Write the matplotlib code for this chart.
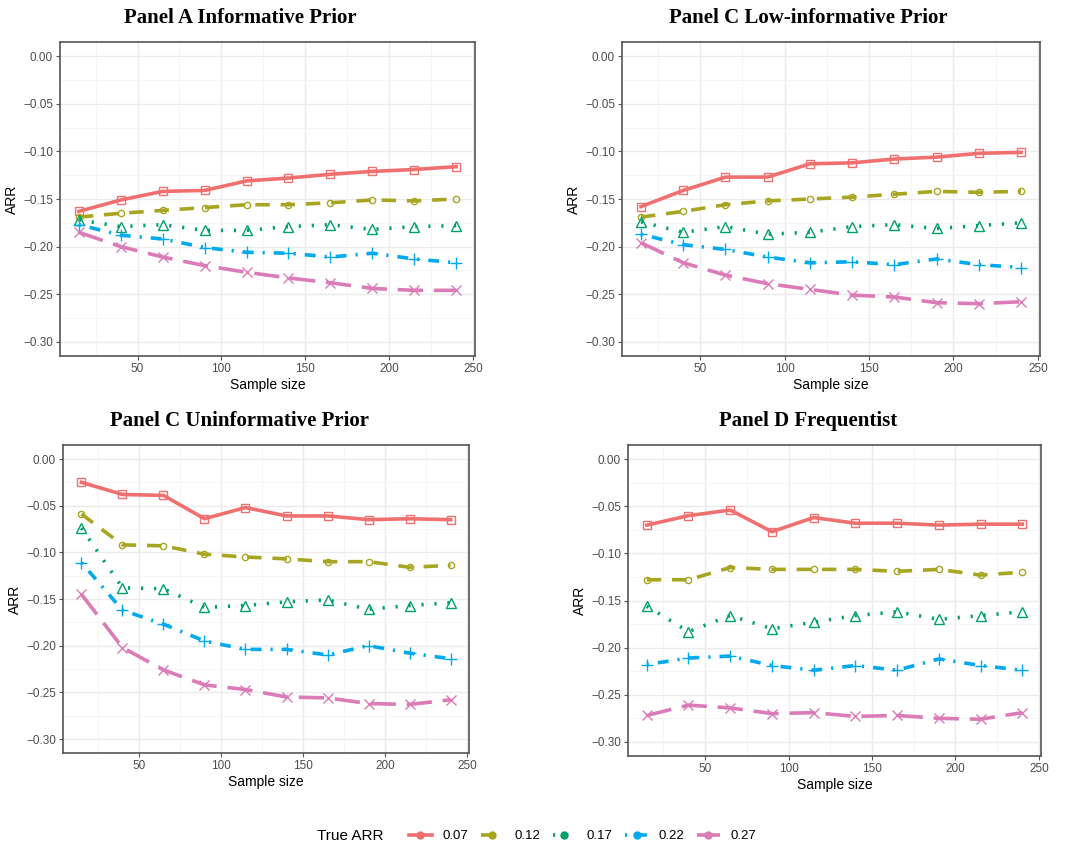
import numpy as np
import matplotlib.pyplot as plt
from matplotlib.lines import Line2D

plt.rcParams['font.family'] = ['Liberation Sans', 'DejaVu Sans']

sample_size = [15, 40, 65, 90, 115, 140, 165, 190, 215, 240]
true_arr = ['0.07', '0.12', '0.17', '0.22', '0.27']

# Panel A Informative Prior
inf_007 = [-0.163, -0.151, -0.142, -0.141, -0.131, -0.128, -0.124, -0.121, -0.119, -0.116]
inf_012 = [-0.169, -0.165, -0.162, -0.159, -0.156, -0.156, -0.154, -0.151, -0.152, -0.150]
inf_017 = [-0.172, -0.179, -0.177, -0.183, -0.183, -0.179, -0.177, -0.182, -0.179, -0.178]
inf_022 = [-0.177, -0.188, -0.192, -0.201, -0.206, -0.207, -0.211, -0.207, -0.213, -0.217]
inf_027 = [-0.185, -0.200, -0.211, -0.220, -0.227, -0.233, -0.238, -0.244, -0.246, -0.246]

# Panel C Low-informative Prior
low_007 = [-0.158, -0.141, -0.127, -0.127, -0.113, -0.112, -0.108, -0.106, -0.102, -0.101]
low_012 = [-0.169, -0.163, -0.156, -0.152, -0.150, -0.148, -0.145, -0.142, -0.143, -0.142]
low_017 = [-0.174, -0.185, -0.179, -0.187, -0.185, -0.179, -0.177, -0.181, -0.178, -0.175]
low_022 = [-0.187, -0.198, -0.203, -0.211, -0.217, -0.216, -0.219, -0.213, -0.219, -0.222]
low_027 = [-0.196, -0.217, -0.230, -0.239, -0.245, -0.251, -0.253, -0.259, -0.260, -0.258]

# Panel C Uninformative Prior
uni_007 = [-0.025, -0.038, -0.039, -0.064, -0.052, -0.061, -0.061, -0.065, -0.064, -0.065]
uni_012 = [-0.059, -0.092, -0.093, -0.102, -0.105, -0.107, -0.110, -0.110, -0.116, -0.114]
uni_017 = [-0.074, -0.138, -0.139, -0.159, -0.157, -0.153, -0.151, -0.161, -0.157, -0.154]
uni_022 = [-0.111, -0.162, -0.177, -0.195, -0.204, -0.204, -0.210, -0.200, -0.208, -0.214]
uni_027 = [-0.145, -0.202, -0.226, -0.242, -0.247, -0.255, -0.256, -0.262, -0.263, -0.258]

# Panel D Frequentist
freq_007 = [-0.070, -0.060, -0.054, -0.077, -0.062, -0.068, -0.068, -0.070, -0.069, -0.069]
freq_012 = [-0.128, -0.128, -0.115, -0.117, -0.117, -0.117, -0.119, -0.117, -0.123, -0.120]
freq_017 = [-0.156, -0.183, -0.166, -0.180, -0.173, -0.166, -0.162, -0.170, -0.166, -0.162]
freq_022 = [-0.218, -0.211, -0.209, -0.219, -0.224, -0.219, -0.224, -0.212, -0.219, -0.224]
freq_027 = [-0.272, -0.261, -0.264, -0.270, -0.269, -0.273, -0.272, -0.275, -0.276, -0.269]

panels = [
    ('Panel A Informative Prior', [inf_007, inf_012, inf_017, inf_022, inf_027]),
    ('Panel C Low-informative Prior', [low_007, low_012, low_017, low_022, low_027]),
    ('Panel C Uninformative Prior', [uni_007, uni_012, uni_017, uni_022, uni_027]),
    ('Panel D Frequentist', [freq_007, freq_012, freq_017, freq_022, freq_027]),
]

colors = ['#F07070', '#A8A520', '#00A06A', '#00A9EE', '#DB7BB8']
styles = ['solid', (0, (4, 3)), (0, (0.6, 3)), (0, (0.6, 2.5, 3, 2.5)), (0, (7, 3))]
markers = ['s', 'o', '^', '+', 'x']
msizes = [6, 4.5, 6.5, 8, 6.5]

# axes boxes in pixels (left, top, right, bottom), title centre x
boxes = [(60, 42, 475, 356, 240), (622, 42, 1040, 356, 808),
         (63, 445, 469, 753, 240), (628, 445, 1041, 756, 808)]
title_y = [18, 18, 421, 421]

W, H = 1071, 850
fig = plt.figure(figsize=(W / 100, H / 100), dpi=100)

for (title, series), (l, t, r, b, tx), ty in zip(panels, boxes, title_y):
    ax = fig.add_axes([l / W, 1 - b / H, (r - l) / W, (b - t) / H])
    for vals, c, ls, m, s in zip(series, colors, styles, markers, msizes):
        ax.plot(sample_size, vals, color=c, lw=2.6, ls=ls, dash_capstyle='butt')
        ax.plot(sample_size, vals, ls='none', marker=m, ms=s,
                mfc='none', mec=c, mew=1.0)
    ax.set_xlim(3.75, 251.25)
    ax.set_ylim(-0.315, 0.015)
    ax.set_xticks([50, 100, 150, 200, 250])
    ax.set_xticks([25, 75, 125, 175, 225], minor=True)
    ax.set_yticks(np.arange(-0.30, 0.001, 0.05))
    ax.set_yticks(np.arange(-0.275, 0.0, 0.05), minor=True)
    ax.set_yticklabels(['\u22120.30', '\u22120.25', '\u22120.20', '\u22120.15',
                        '\u22120.10', '\u22120.05', '0.00'])
    ax.grid(True, which='major', color='#EBEBEB', lw=1.0)
    ax.grid(True, which='minor', color='#F4F4F4', lw=0.6)
    ax.set_axisbelow(True)
    for sp in ax.spines.values():
        sp.set_color('#555555')
        sp.set_linewidth(1.2)
    ax.tick_params(which='major', length=3, color='#555555', labelsize=8.5,
                   labelcolor='#4D4D4D', pad=2)
    ax.tick_params(which='minor', length=0)
    ax.set_xlabel('Sample size', fontsize=10, labelpad=2)
    ax.set_ylabel('ARR', fontsize=10, labelpad=3)
    fig.text(tx / W, 1 - ty / H, title, fontsize=15, fontweight='bold',
             family='Liberation Serif', ha='center', va='center')

handles = [Line2D([0], [0], color=c, lw=2.6, ls=ls, marker='o', ms=5,
                  dash_capstyle='butt')
           for c, ls in zip(colors, styles)]
fig.text(317 / W, 1 - 836 / H, 'True ARR', fontsize=11, va='center', ha='left')
fig.legend(handles, true_arr, loc='center left', bbox_to_anchor=(404 / W, 1 - 836 / H),
           ncol=5, frameon=False, fontsize=9.5, handlelength=1.7,
           columnspacing=1.0, handletextpad=0.8, borderaxespad=0)

fig.savefig('out.png', dpi=100)
